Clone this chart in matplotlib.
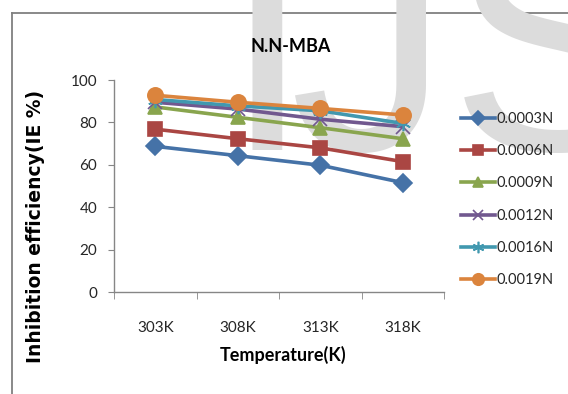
import matplotlib
matplotlib.use("Agg")
import matplotlib.pyplot as plt
from matplotlib.lines import Line2D
import numpy as np

# data
temps = ["303K", "308K", "313K", "318K"]
labels = ["0.0003N", "0.0006N", "0.0009N", "0.0012N", "0.0016N", "0.0019N"]
ie_0003 = [68.7, 64.3, 59.8, 51.6]
ie_0006 = [76.8, 72.3, 68.0, 61.5]
ie_0009 = [87.3, 82.4, 77.5, 72.3]
ie_0012 = [89.5, 86.3, 81.5, 78.0]
ie_0016 = [90.8, 87.8, 85.5, 79.5]
ie_0019 = [92.8, 89.5, 86.6, 83.5]

series = [ie_0003, ie_0006, ie_0009, ie_0012, ie_0016, ie_0019]
colors = ["#4572A7", "#AA4643", "#89A54E", "#71588F", "#4198AF", "#DB843D"]
markers = ["D", "s", "^", "x", (6, 2, 0), "o"]
msizes = [9, 10, 10, 10, 11, 11]

W, H = 568, 394
fig = plt.figure(figsize=(W / 100, H / 100), dpi=100)

def fx(px):
    return px / W

def fy(py):
    return 1 - py / H

# outer chart frame (goes off the right and bottom edges)
fig.add_artist(Line2D([fx(12), 1.0], [fy(13), fy(13)], color="#808080", lw=1.3, zorder=0))
fig.add_artist(Line2D([fx(12), fx(12)], [fy(13), 0.0], color="#808080", lw=1.3, zorder=0))

# watermark letters in the background
wm = dict(fontsize=230, color="#dcdcdc", family="Liberation Sans", va="baseline", ha="left", zorder=1)
fig.text(fx(223), fy(150), "I", **wm)
fig.text(fx(290), fy(150), "JS", **wm)

ax = fig.add_axes([fx(114), fy(292), fx(444) - fx(114), fy(80) - fy(292)])
ax.set_facecolor("none")
ax.set_zorder(2)

x = np.arange(len(temps))
for vals, lab, c, m, ms in zip(series, labels, colors, markers, msizes):
    ax.plot(x, vals, color=c, lw=2.6, marker=m, markersize=ms, markeredgecolor=c,
            markeredgewidth=1.2, label=lab)

ax.set_xlim(-0.5, len(temps) - 0.5)
ax.set_ylim(0, 100)
ax.set_yticks(range(0, 101, 20))
ax.set_xticks(x)
ax.set_xticklabels(temps)
ax.set_xticks(np.arange(-0.5, len(temps), 1.0), minor=True)
ax.tick_params(axis="x", which="major", length=0, pad=21)
ax.tick_params(axis="x", which="minor", length=5, direction="out", color="#868686")
ax.tick_params(axis="y", length=4, direction="out", color="#868686", pad=8)
for lbl in ax.get_xticklabels() + ax.get_yticklabels():
    lbl.set_family("Lato")
    lbl.set_fontsize(11)
    lbl.set_color("#262626")

for s in ["top", "right"]:
    ax.spines[s].set_visible(False)
for s in ["left", "bottom"]:
    ax.spines[s].set_color("#868686")
    ax.spines[s].set_linewidth(1.0)

fig.text(fx(291), fy(46), "N.N-MBA", ha="center", va="center", fontsize=13,
         fontweight="bold", family="Lato")
fig.text(fx(283), fy(355), "Temperature(K)", ha="center", va="center", fontsize=13,
         fontweight="bold", family="Lato")
fig.text(fx(36), fy(226), "Inhibition efficiency(IE %)", ha="center", va="center",
         rotation=90, fontsize=13.5, fontweight="bold", family="DejaVu Sans")

leg = ax.legend(loc="upper left", bbox_to_anchor=(fx(461), fy(112)), bbox_transform=fig.transFigure,
                frameon=False, handlelength=2.3, handletextpad=0.15, labelspacing=1.25,
                markerscale=0.75, borderaxespad=0, borderpad=0,
                prop={"family": "Lato", "size": 10.5})
for t in leg.get_texts():
    t.set_color("#262626")

fig.savefig("out.png", dpi=100)
